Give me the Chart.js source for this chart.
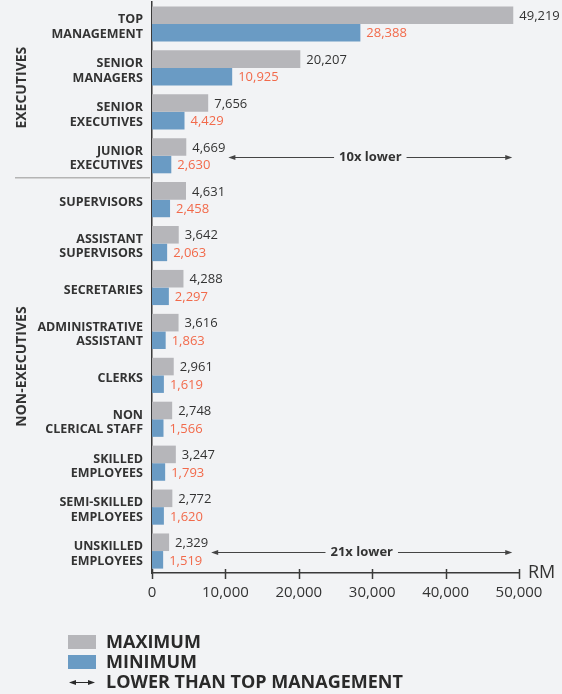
<!DOCTYPE html>
<html>
<head>
<meta charset="utf-8">
<script src="https://cdn.jsdelivr.net/npm/chart.js@4"></script>
<style>
  html, body { margin: 0; padding: 0; background: #f2f3f5; }
  #wrap { width: 562px; height: 694px; position: relative; }
</style>
</head>
<body>
<div id="wrap"><canvas id="chart"></canvas></div>
<script>
const ctx = document.querySelector("#chart");

const COLORS = {
    maxBar: '#b6b6ba',
    minBar: '#6a9bc4',
    minText: '#f26a4b',
    text: '#333333',
    axis: '#3a3a3a',
    rule: '#b4b4b4'
};

const FONT = "'Open Sans', 'Noto Sans', sans-serif";

const categories = [
    ["TOP", "MANAGEMENT"],
    ["SENIOR", "MANAGERS"],
    ["SENIOR", "EXECUTIVES"],
    ["JUNIOR", "EXECUTIVES"],
    "SUPERVISORS",
    ["ASSISTANT", "SUPERVISORS"],
    "SECRETARIES",
    ["ADMINISTRATIVE", "ASSISTANT"],
    "CLERKS",
    ["NON", "CLERICAL STAFF"],
    ["SKILLED", "EMPLOYEES"],
    ["SEMI-SKILLED", "EMPLOYEES"],
    ["UNSKILLED", "EMPLOYEES"]
];

const maxWage = [49219, 20207, 7656, 4669, 4631, 3642, 4288, 3616, 2961, 2748, 3247, 2772, 2329];
const minWage = [28388, 10925, 4429, 2630, 2458, 2063, 2297, 1863, 1619, 1566, 1793, 1620, 1519];

const xTicks = [0, 10000, 20000, 30000, 40000, 50000];

// groups of rows: name and index of first row
const groupNames = ["EXECUTIVES", "NON-EXECUTIVES"];
const groupStarts = [0, 4];

// rows compared against top management (row 0)
const compareRows = [3, 12];

const fmt = v => v.toLocaleString('en-US');

const valueLabels = {
    id: 'valueLabels',
    afterDatasetsDraw(chart) {
        const c = chart.ctx;
        c.save();
        c.font = `13px ${FONT}`;
        c.textAlign = 'left';
        c.textBaseline = 'middle';
        chart.data.datasets.forEach((ds, i) => {
            const meta = chart.getDatasetMeta(i);
            c.fillStyle = i === 0 ? COLORS.text : COLORS.minText;
            meta.data.forEach((bar, j) => {
                c.fillText(fmt(ds.data[j]), bar.x + 6, bar.y + 1);
            });
        });
        c.restore();
    }
};

function arrowHead(c, x, y, dir) {
    c.beginPath();
    c.moveTo(x, y);
    c.lineTo(x - dir * 7, y - 2.5);
    c.lineTo(x - dir * 7, y + 2.5);
    c.closePath();
    c.fill();
}

const extras = {
    id: 'extras',
    afterDraw(chart) {
        const c = chart.ctx;
        const xs = chart.scales.x;
        const ys = chart.scales.y;
        const area = chart.chartArea;
        const step = ys.getPixelForValue(1) - ys.getPixelForValue(0);
        c.save();

        // x axis tick marks crossing the axis line
        c.strokeStyle = COLORS.axis;
        c.lineWidth = 1.5;
        xTicks.forEach(v => {
            const px = Math.round(xs.getPixelForValue(v)) + 0.5;
            c.beginPath();
            c.moveTo(px, area.bottom - 4);
            c.lineTo(px, area.bottom + 6);
            c.stroke();
        });

        // unit
        c.fillStyle = COLORS.text;
        c.font = `18px ${FONT}`;
        c.textAlign = 'left';
        c.textBaseline = 'middle';
        c.fillText('RM', area.right + 9, area.bottom);

        // group separator
        c.strokeStyle = COLORS.rule;
        c.lineWidth = 1.5;
        const sepY = ys.getPixelForValue(groupStarts[1]) - step / 2;
        c.beginPath();
        c.moveTo(15, sepY);
        c.lineTo(area.left - 2, sepY);
        c.stroke();

        // group titles
        c.font = `bold 14px ${FONT}`;
        c.textAlign = 'center';
        c.fillStyle = COLORS.text;
        const shifts = [-0.05, -0.2];
        groupNames.forEach((name, g) => {
            const first = groupStarts[g];
            const last = g + 1 < groupStarts.length ? groupStarts[g + 1] - 1 : categories.length - 1;
            const cy = ys.getPixelForValue((first + last) / 2 + shifts[g]);
            c.save();
            c.translate(21, cy);
            c.rotate(-Math.PI / 2);
            c.fillText(name, 0, 1);
            c.restore();
        });

        // "lower than top management" arrows
        c.strokeStyle = '#444444';
        c.fillStyle = '#444444';
        c.lineWidth = 1;
        compareRows.forEach(row => {
            const y = Math.round(ys.getPixelForValue(row)) + 1.5;
            c.font = `13px ${FONT}`;
            const labelEnd = xs.getPixelForValue(maxWage[row]) + 6 + c.measureText(fmt(maxWage[row])).width;
            const x0 = labelEnd + 3;
            const x1 = xs.getPixelForValue(maxWage[0]) - 1;
            const text = Math.floor(maxWage[0] / maxWage[row]) + 'x lower';
            c.font = `bold 13px ${FONT}`;
            const tw = c.measureText(text).width;
            const mid = (x0 + x1) / 2;
            c.beginPath();
            c.moveTo(x0 + 2, y);
            c.lineTo(mid - tw / 2 - 5, y);
            c.moveTo(mid + tw / 2 + 5, y);
            c.lineTo(x1 - 2, y);
            c.stroke();
            arrowHead(c, x0, y, -1);
            arrowHead(c, x1, y, 1);
            c.fillStyle = COLORS.text;
            c.textAlign = 'center';
            c.fillText(text, mid, y);
            c.fillStyle = '#444444';
        });

        // legend
        c.textAlign = 'left';
        c.font = `bold 18px ${FONT}`;
        c.fillStyle = COLORS.maxBar;
        c.fillRect(68, 635, 28, 14);
        c.fillStyle = COLORS.minBar;
        c.fillRect(68, 655, 28, 14);
        c.fillStyle = '#2a2a2a';
        c.fillText('MAXIMUM', 106, 643);
        c.fillText('MINIMUM', 106, 663);
        c.fillText('LOWER THAN TOP MANAGEMENT', 106, 683);
        c.strokeStyle = '#2a2a2a';
        c.fillStyle = '#2a2a2a';
        c.beginPath();
        c.moveTo(71, 682.5);
        c.lineTo(93, 682.5);
        c.stroke();
        arrowHead(c, 69, 682.5, -1);
        arrowHead(c, 95, 682.5, 1);

        c.restore();
    }
};

const config = {
    type: 'bar',
    data: {
        labels: categories,
        datasets: [
            {
                label: 'MAXIMUM',
                data: maxWage,
                backgroundColor: COLORS.maxBar,
            },
            {
                label: 'MINIMUM',
                data: minWage,
                backgroundColor: COLORS.minBar,
            }
        ]
    },
    options: {
        indexAxis: 'y',
        responsive: true,
        maintainAspectRatio: false,
        animation: false,
        categoryPercentage: 0.8,
        barPercentage: 1.0,
        layout: {
            padding: { top: 2, right: 43, bottom: 91, left: 0 }
        },
        plugins: {
            legend: { display: false },
            tooltip: { enabled: false }
        },
        scales: {
            x: {
                min: 0,
                max: 50000,
                afterFit(scale) { scale.height = 30; },
                afterBuildTicks(scale) { scale.ticks = xTicks.map(v => ({ value: v })); },
                grid: { display: false },
                border: { display: true, color: COLORS.axis, width: 1.5 },
                ticks: {
                    color: COLORS.text,
                    font: { family: FONT, size: 15 },
                    padding: 3,
                    maxRotation: 0,
                    callback: v => fmt(v)
                }
            },
            y: {
                afterFit(scale) {
                    scale.width = 152;
                    scale.paddingTop = 0;
                    scale.paddingBottom = 0;
                },
                grid: { display: false, drawTicks: false },
                border: { display: true, color: COLORS.axis, width: 1.5 },
                ticks: {
                    color: COLORS.text,
                    font: { family: FONT, size: 12.5, weight: 'bold', lineHeight: 1.15 },
                    padding: 9,
                    labelOffset: 3,
                    autoSkip: false
                }
            }
        }
    },
    plugins: [valueLabels, extras]
};

new Chart(ctx, config);
</script>
</body>
</html>
